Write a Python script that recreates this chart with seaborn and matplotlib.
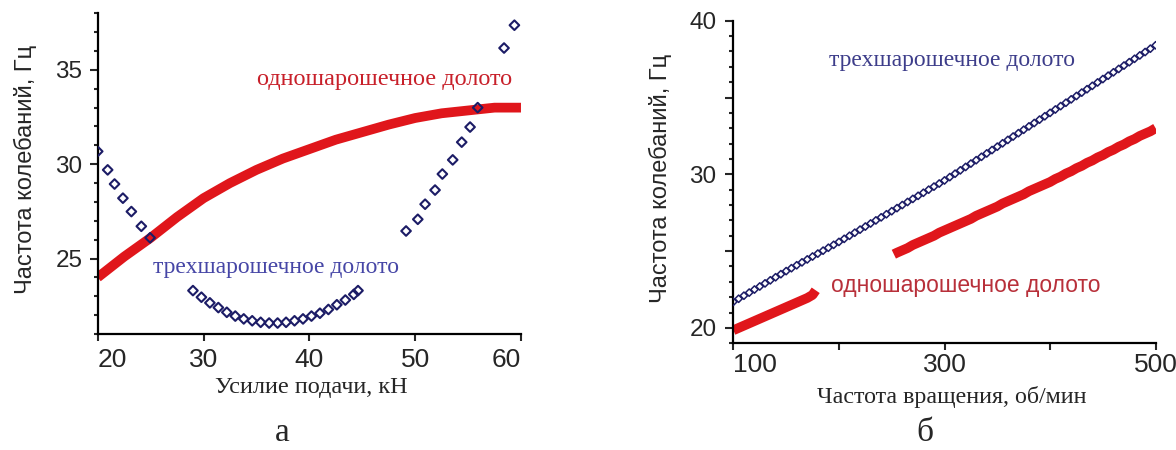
import matplotlib
matplotlib.use("Agg")
import matplotlib.pyplot as plt
from matplotlib.ticker import MultipleLocator
import seaborn as sns

sns.set_style("ticks")
plt.rcParams["font.family"] = ["Liberation Sans", "DejaVu Sans"]

RED = "#e0161b"
NAVY = "#1c1c66"
SERIF = ["Liberation Serif", "DejaVu Serif"]

# ---------------- panel а: feed force ----------------
feed_one = [20, 22.5, 25, 27.5, 30, 32.5, 35, 37.5, 40, 42.5, 45, 47.5, 50, 52.5, 55, 57.5, 60]
freq_one_a = [24.0, 25.1, 26.1, 27.2, 28.2, 29.0, 29.7, 30.3, 30.8, 31.3, 31.7, 32.1, 32.45, 32.7, 32.85, 33.0, 33.0]

feed_three = [20.0, 20.94, 21.59, 22.38, 23.18, 24.12, 24.95,
              29.0, 29.8, 30.6, 31.4, 32.2, 33.0, 33.8, 34.6, 35.4, 36.2, 37.0, 37.8,
              38.6, 39.4, 40.2, 41.0, 41.8, 42.6, 43.4, 44.2, 44.6,
              49.14, 50.25, 50.94, 51.88, 52.57, 53.55, 54.40, 55.19, 55.91, 58.40, 59.38]
freq_three_a = [30.68, 29.70, 28.95, 28.20, 27.49, 26.71, 26.10,
                23.3, 22.95, 22.65, 22.4, 22.15, 21.95, 21.8, 21.7, 21.62, 21.58, 21.58, 21.62,
                21.7, 21.8, 21.95, 22.1, 22.3, 22.55, 22.8, 23.1, 23.3,
                26.46, 27.08, 27.88, 28.63, 29.48, 30.23, 31.17, 31.97, 33.0, 36.16, 37.37]

# ---------------- panel б: rotation speed ----------------
rpm_one_1 = [100, 105, 110, 115, 120, 125, 130, 135, 140, 145, 150, 155, 160, 165, 170, 175, 178]
freq_one_b1 = [19.85, 20.0, 20.15, 20.3, 20.45, 20.6, 20.75, 20.9, 21.05, 21.2, 21.35, 21.5, 21.65,
               21.8, 21.95, 22.15, 22.45]
rpm_one_2 = [252, 255, 260, 265, 270, 275, 280, 285, 290, 295, 300, 305, 310, 315, 320, 325, 330,
             335, 340, 345, 350, 355, 360, 365, 370, 375, 380, 385, 390, 395, 400, 405, 410, 415,
             420, 425, 430, 435, 440, 445, 450, 455, 460, 465, 470, 475, 480, 485, 490, 495, 500]
freq_one_b2 = [24.8, 24.9, 25.05, 25.2, 25.4, 25.55, 25.7, 25.85, 26.0, 26.2, 26.35, 26.5, 26.65,
               26.8, 26.95, 27.1, 27.3, 27.45, 27.6, 27.75, 27.9, 28.1, 28.25, 28.4, 28.55, 28.7,
               28.9, 29.05, 29.2, 29.35, 29.5, 29.7, 29.85, 30.05, 30.2, 30.4, 30.55, 30.75, 30.9,
               31.1, 31.25, 31.45, 31.6, 31.8, 31.95, 32.15, 32.3, 32.5, 32.65, 32.8, 33.0]

rpm_three = [100, 105, 110, 115, 120, 125, 130, 135, 140, 145, 150, 155, 160, 165, 170, 175, 180,
             185, 190, 195, 200, 205, 210, 215, 220, 225, 230, 235, 240, 245, 250, 255, 260, 265,
             270, 275, 280, 285, 290, 295, 300, 305, 310, 315, 320, 325, 330, 335, 340, 345, 350,
             355, 360, 365, 370, 375, 380, 385, 390, 395, 400, 405, 410, 415, 420, 425, 430, 435,
             440, 445, 450, 455, 460, 465, 470, 475, 480, 485, 490, 495, 500]
freq_three_b = [21.70, 21.90, 22.10, 22.30, 22.50, 22.70, 22.90, 23.10, 23.30, 23.50,
                23.70, 23.89, 24.08, 24.27, 24.46, 24.65, 24.84, 25.03, 25.22, 25.41,
                25.60, 25.80, 26.00, 26.20, 26.40, 26.60, 26.80, 27.00, 27.20, 27.40,
                27.60, 27.80, 28.00, 28.20, 28.40, 28.60, 28.80, 29.00, 29.20, 29.40,
                29.60, 29.82, 30.04, 30.26, 30.48, 30.70, 30.92, 31.14, 31.36, 31.58,
                31.80, 32.02, 32.24, 32.46, 32.68, 32.90, 33.12, 33.34, 33.56, 33.78,
                34.00, 34.22, 34.44, 34.66, 34.88, 35.10, 35.32, 35.54, 35.76, 35.98,
                36.20, 36.42, 36.64, 36.86, 37.08, 37.30, 37.52, 37.74, 37.96, 38.18, 38.40]

LABEL_ONE = "одношарошечное долото"
LABEL_THREE = "трехшарошечное долото"
Y_LABEL = "Частота колебаний, Гц"

fig = plt.figure(figsize=(11.76, 4.5), dpi=100)
ax_a = fig.add_axes([0.0831, 0.2578, 0.3599, 0.7126])
ax_b = fig.add_axes([0.6236, 0.2371, 0.3591, 0.7169])


def style_axis(ax, xpad, ypad, xlen):
    sns.despine(ax=ax)
    for side in ("left", "bottom"):
        ax.spines[side].set_linewidth(1.6)
        ax.spines[side].set_color("black")
    ax.tick_params(axis="y", which="major", length=6, width=1.5, labelsize=17.5, pad=ypad)
    ax.tick_params(axis="y", which="minor", length=3, width=1.5)
    ax.tick_params(axis="x", which="major", length=xlen, width=1.5, labelsize=19, pad=xpad)
    ax.yaxis.set_minor_locator(MultipleLocator(1))
    ax.set_xlabel("")
    ax.set_ylabel("")


# ---- а ----
sns.lineplot(x=feed_one, y=freq_one_a, color=RED, linewidth=7, ax=ax_a,
             solid_capstyle="butt")
sns.scatterplot(x=feed_three, y=freq_three_a, marker="D", s=24, color=NAVY,
                facecolor="none", edgecolor=NAVY, linewidth=1.5, ax=ax_a, zorder=3)
ax_a.set_xlim(20, 60)
ax_a.set_ylim(21, 38)
ax_a.set_xticks([20, 30, 40, 50, 60], ["20", "30", "40", "50", "60"])
ax_a.set_yticks([25, 30, 35], ["25", "30", "35"])
style_axis(ax_a, xpad=5, ypad=5, xlen=5)
ax_a.get_xticklabels()[0].set_ha("left")
ax_a.get_xticklabels()[-1].set_ha("right")
ax_a.text(35.1, 34.5, LABEL_ONE, color="#c8202a", fontsize=17.5, family=SERIF,
          ha="left", va="center")
ax_a.text(25.2, 24.5, LABEL_THREE, color="#4646a6", fontsize=17, family=SERIF,
          ha="left", va="center")

# ---- б ----
sns.lineplot(x=rpm_one_1, y=freq_one_b1, color=RED, linewidth=7, ax=ax_b,
             solid_capstyle="butt")
sns.lineplot(x=rpm_one_2, y=freq_one_b2, color=RED, linewidth=7, ax=ax_b,
             solid_capstyle="butt")
sns.scatterplot(x=rpm_three, y=freq_three_b, marker="D", s=14, color=NAVY,
                facecolor="none", edgecolor=NAVY, linewidth=1.1, ax=ax_b, zorder=3)
ax_b.set_xlim(100, 500)
ax_b.set_ylim(19, 40)
ax_b.set_xticks([100, 200, 300, 400, 500], ["100", "", "300", "", "500"])
ax_b.set_yticks([20, 25, 30, 35, 40], ["20", "", "30", "", "40"])
style_axis(ax_b, xpad=2, ypad=6, xlen=5)
ax_b.get_xticklabels()[0].set_ha("left")
ax_b.text(190.6, 37.44, LABEL_THREE, color="#3d3d8a", fontsize=17, family=SERIF,
          ha="left", va="center")
ax_b.text(192.4, 22.76, LABEL_ONE, color="#b8303a", fontsize=16.5,
          ha="left", va="center")

# axis titles and panel letters
fig.text(25.5 / 1176, 1 - 169 / 450, Y_LABEL, rotation=90, fontsize=17,
         ha="center", va="center")
fig.text(660 / 1176, 1 - 178 / 450, Y_LABEL, rotation=90, fontsize=17,
         ha="center", va="center")
fig.text(311 / 1176, 1 - 388 / 450, "Усилие подачи, кН", fontsize=17.5, family=SERIF,
         ha="center", va="center")
fig.text(951.6 / 1176, 1 - 397 / 450, "Частота вращения, об/мин", fontsize=17.3,
         family=SERIF, ha="center", va="center")
fig.text(282 / 1176, 1 - 433 / 450, "а", fontsize=24, family=SERIF, ha="center", va="center")
fig.text(925 / 1176, 1 - 433 / 450, "б", fontsize=24, family=SERIF, ha="center", va="center")

fig.savefig("out.png", dpi=100, facecolor="white")
